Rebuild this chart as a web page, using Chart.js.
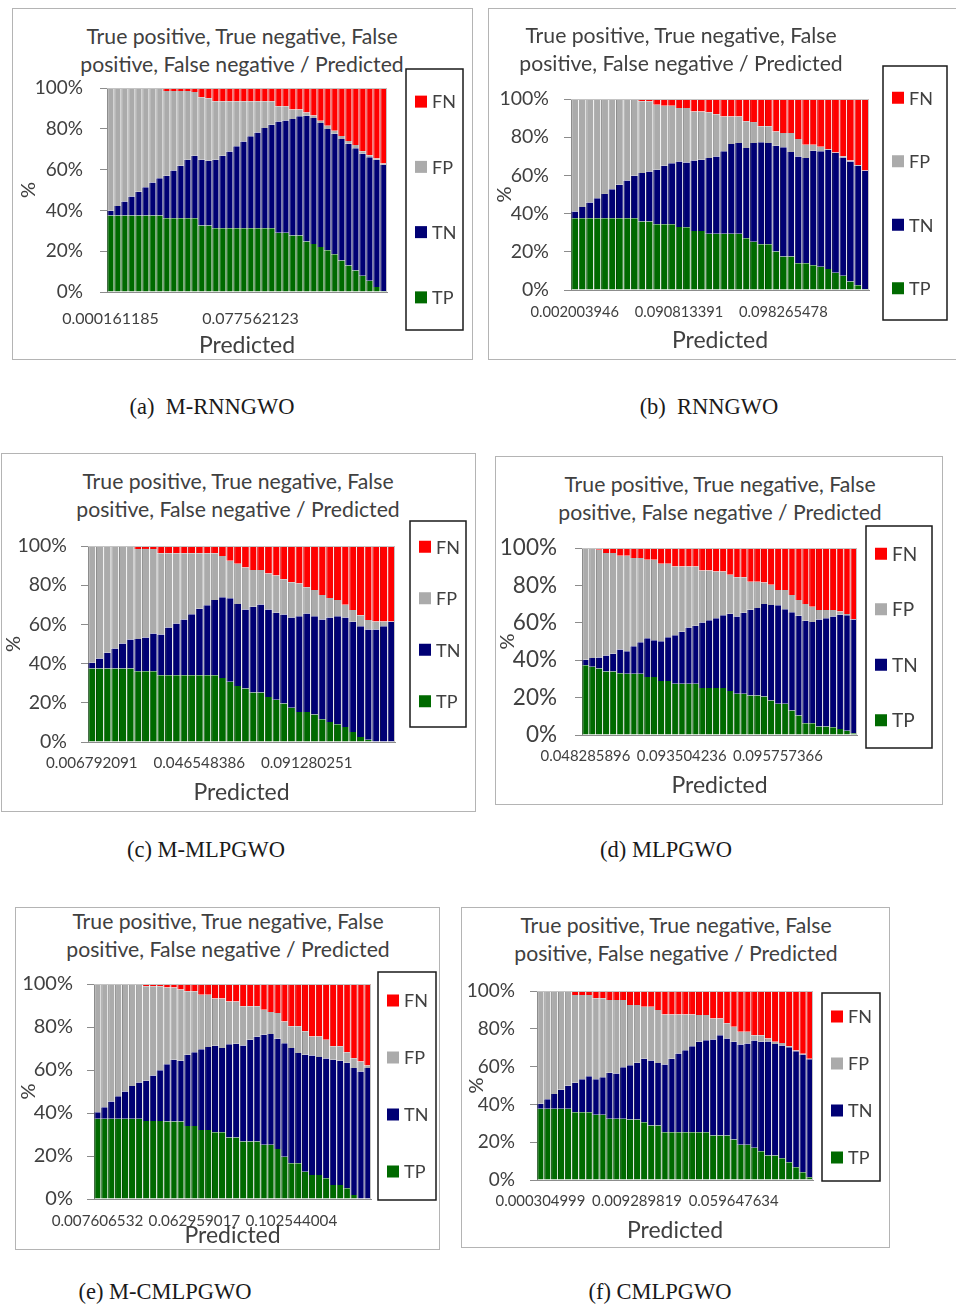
<!DOCTYPE html>
<html>
<head>
<meta charset="utf-8">
<title>TP / TN / FP / FN by predicted value</title>
<script src="https://cdn.jsdelivr.net/npm/chart.js@4.4.0/dist/chart.umd.min.js"></script>
<style>
  body { margin: 0; background: #fff; }
  #page { position: relative; width: 956px; height: 1306px; overflow: hidden; }
  .box { position: absolute; border: 1.5px solid #b4b4b4; box-sizing: border-box; }
  canvas { position: absolute; }
  .title { position: absolute; width: 440px; text-align: center; font: 21.2px Lato, sans-serif; line-height: 28px; color: #404040; }
  .caption { position: absolute; width: 320px; text-align: center; font: 22.5px "Liberation Serif", "Times New Roman", serif; color: #1a1a1a; white-space: pre; }
</style>
</head>
<body>
<div id="page"></div>
<script>
// (a) M-RNNGWO
const tpA = [37.5,37.5,37.5,37.5,37.5,37.5,37.5,37.5,36.2,36.2,36.2,36.2,36.2,32.6,32.6,31.3,31.3,31.3,31.3,31.3,31.3,31.3,31.3,31.3,29.1,29.1,27.7,27.7,24.7,23.5,22,20.5,18.5,15.5,13,10.5,8,5.5,2.5,0.5];
const tnA = [2.3,4.6,6.9,9.3,11.6,13.9,16.2,18.3,20.8,23.4,25.7,28.6,30.6,32.2,31.7,33.5,35.5,37.6,40.1,42.5,45,46.9,49.1,50.7,54.5,55,57.1,58.4,61.7,61.8,60.8,59.4,59.1,59.5,59.7,60,59.8,60.6,62.3,61.9];
const fpA = [60.2,57.9,55.6,53.2,50.9,48.6,46.3,44.2,41.5,38.9,36.6,33.7,31.2,30.7,30.7,28.7,26.7,24.6,22.1,19.7,17.2,15.3,13.1,11.5,7.4,6.9,4.7,3.4,1.6,1.2,1.2,1.6,1.4,1.5,1.3,1.5,1.2,0.9,0.7,0.6];
const fnA = [0,0,0,0,0,0,0,0,1.5,1.5,1.5,1.5,2,4.5,5,6.5,6.5,6.5,6.5,6.5,6.5,6.5,6.5,6.5,9,9,10.5,10.5,12,13.5,16,18.5,21,23.5,26,28,31,33,34.5,37];
const xTicksA = ['0.000161185', '0.077562123'];

// (b) RNNGWO
const tpB = [37.6,37.6,37.6,37.6,37.6,37.6,37.6,37.6,37.6,35.8,35.8,34.4,34.4,34.4,33,32.9,30.9,30.9,29.4,29.4,29.4,29.4,29.4,27.1,25.3,24,24,20.1,17.5,17.5,14,14,13,12.2,11,9,7.5,4.5,2.5,0.5];
const tnB = [3.5,5.8,8.2,10.5,12.7,15.2,17.5,19.7,22.2,25.4,26.3,28.5,30.6,32,34.3,33.9,36.9,37.3,39.7,40.5,43.2,47,47.5,47.2,51.6,53.4,52.9,55.4,57.3,54.7,55.9,55.1,59.9,60.4,62.4,62.7,61.9,62.8,62.5,61.9];
const fpB = [58.9,56.6,54.2,51.9,49.7,47.2,44.9,42.7,40.2,37.6,36.7,34.1,31.5,30.1,28,28.5,25.7,25.3,23.9,22.1,18.3,14.5,14,14,11,8.3,8.8,7.5,7.4,10,9.1,6.9,3.1,2.4,0.4,0.3,0.6,0.5,0.5,0.2];
const fnB = [0,0,0,0,0,0,0,0,0,1.2,1.2,3,3.5,3.5,4.7,4.7,6.5,6.5,7,8,9.1,9.1,9.1,11.7,12.1,14.3,14.3,17,17.8,17.8,21,24,24,25,26.2,28,30,32.2,34.5,37.4];
const xTicksB = ['0.002003946', '0.090813391', '0.098265478'];

// (c) M-MLPGWO
const tpC = [37.5,37.5,37.5,37.5,37.5,37.5,36.1,36.1,36.1,34.1,34.1,34.1,34.1,34.1,34.1,34.1,34.1,32.7,30.7,28.6,27.3,25.2,25.2,23,21.5,19.6,17.5,15.3,15.3,14,11.6,10.2,9,7.7,5.1,2.6,1.2,0,0,0];
const tnC = [2.9,5.1,8,10.2,12.8,14.8,16.4,17.2,19.3,20.8,24.3,26.4,28.4,31.1,33.9,35.7,38.3,41.1,42.6,41.8,40.3,43.8,45,44.6,44.4,45.5,46,48.9,50.3,50.2,50.9,53.3,55.2,55.8,56.2,56.5,56.2,57.4,59.1,61.3];
const fpC = [59.6,57.4,54.5,52.3,49.7,47.7,46,45.2,43.1,41.4,37.9,35.8,33.8,31.1,28.3,26.5,23.9,21.1,19.2,20.6,21.4,18.7,17.5,18.4,19.1,17.9,18,16.7,13.4,13.3,12.5,10,8.2,6.5,6,5.6,4.8,4.1,2.4,0.2];
const fnC = [0,0,0,0,0,0,1.5,1.5,1.5,3.7,3.7,3.7,3.7,3.7,3.7,3.7,3.7,5.1,7.5,9,11,12.3,12.3,14,15,17,18.5,19.1,21,22.5,25,26.5,27.6,30,32.7,35.3,37.8,38.5,38.5,38.5];
const xTicksC = ['0.006792091', '0.046548386', '0.091280251'];

// (d) MLPGWO
const tpD = [37.3,36.5,35.5,34,34,33,32.8,32.8,32.8,31,31,28.9,28.9,27.4,27.4,27.4,27.4,25.1,25.1,25.1,25.1,23.5,22,22,21.1,21.1,20.6,18.5,16.7,16.7,13.1,10.4,6.3,6.3,4.5,4.5,4.1,3.2,2.3,0.9];
const tnD = [3,4.7,5.9,8.5,9.4,12.7,12,14.7,16.8,20.8,19.7,21.3,23.4,26,27.8,30.1,31,35.1,36.2,37.4,38.9,41.4,41.4,43.4,45.9,46.8,49.5,51,52.7,50.5,52.5,53.4,54.8,54.1,57.3,57.9,59.3,61.1,61.7,60.9];
const fpD = [59.7,58.8,57.7,54.8,53.9,50.2,51.1,47.1,45,41.9,43,41.4,39.3,36.7,34.9,32.6,31.7,27.8,26.7,25,23.5,20.8,21,19,15,14.1,11.4,10.8,8.2,10.4,9.3,8.4,8.9,8.2,5,4.4,3.4,1.7,0.7,0.2];
const fnD = [0,0,0.9,2.7,2.7,4.1,4.1,5.4,5.4,6.3,6.3,8.4,8.4,9.9,9.9,9.9,9.9,12,12,12.5,12.5,14.3,15.6,15.6,18,18,18.5,19.7,22.4,22.4,25.1,27.8,30,31.4,33.2,33.2,33.2,34,35.3,38];
const xTicksD = ['0.048285896', '0.093504236', '0.095757366'];

// (e) M-CMLPGWO
const tpE = [37.3,37.3,37.3,37.3,37.3,37.3,37.3,36.3,36.3,36.3,36,36,36,34,34,32.1,32.1,31.1,31.1,28.6,28.6,26.7,26.7,26.7,25.2,25.2,23.3,19.7,16.6,16.6,12.7,11.2,11.2,9.6,6.5,6.5,5,1.9,0,0];
const tnE = [3.1,5.4,8,10.5,12.7,15.3,16.9,18.7,21.2,23.6,26.7,28.8,28.3,33.1,34.3,37.5,38.6,40.2,39.1,43.4,43.6,44.7,47.4,48.8,51.2,51.5,51.2,52.8,53.6,51.3,54.4,55.6,54.8,55.8,58.3,57.8,58.4,59,59.3,60.9];
const fpE = [59.6,57.3,54.7,52.2,50,47.4,45.8,43.9,41.4,39,35.7,33.6,33.1,29.5,28.3,25.4,24.3,21.9,23,19.9,19.7,18.2,15.5,14.1,11.6,10.3,12,10.1,10.1,12.4,10.9,8.8,9.6,8.7,6.2,6.7,4.9,4.6,4.7,1.2];
const fnE = [0,0,0,0,0,0,0,1.1,1.1,1.1,1.6,1.6,2.6,3.4,3.4,5,5,6.8,6.8,8.1,8.1,10.4,10.4,10.4,12,13,13.5,17.4,19.7,19.7,22,24.4,24.4,25.9,29,29,31.7,34.5,36,37.9];
const xTicksE = ['0.007606532', '0.062959017', '0.102544004'];

// (f) CMLPGWO
const tpF = [37.7,37.7,37.7,37.7,37.7,35.9,35.9,35.9,34.5,34.5,32.4,32.4,32.4,32,32,30.6,28.8,28.8,25.3,25.3,25.3,25.3,25.3,25.3,25.3,23.5,23.5,23.5,21.4,18.6,18.6,17,15.2,12.9,12.9,11.5,9.4,6.7,4.1,1.4];
const tnF = [2.7,5,7.8,10.1,12.2,15.6,17.4,19,18.8,19.8,24.4,23.9,27.2,28.7,30.1,33.5,34.4,33.1,35.8,38.9,41.6,43.4,45.5,47.8,48.7,50.8,53.1,51.4,51.7,53.1,53.6,56.8,57.9,60.4,59.1,59.7,60.9,61.4,62.3,62.5];
const fpF = [59.6,57.3,54.5,52.2,50.1,46.4,44.6,43,42.8,41.8,38.4,38.9,35.6,31.9,30.5,27.6,28.5,28,26.5,23.4,20.7,18.9,16.8,14.2,13.3,11.2,8.9,8.1,8,6.7,6.2,2.8,3.5,1.6,1.1,1.3,0.5,0.4,0.4,0.3];
const fnF = [0,0,0,0,0,2.1,2.1,2.1,3.9,3.9,4.8,4.8,4.8,7.4,7.4,8.3,8.3,10.1,12.4,12.4,12.4,12.4,12.4,12.7,12.7,14.5,14.5,17,18.9,21.6,21.6,23.4,23.4,25.1,26.9,27.5,29.2,31.5,33.2,35.8];
const xTicksF = ['0.000304999', '0.009289819', '0.059647634'];

const yTicks = [0, 20, 40, 60, 80, 100];
const titleLines = ['True positive, True negative, False', 'positive, False negative / Predicted'];

const FONT = 'Lato, "Open Sans", sans-serif';
const TEXT = '#404040';
Chart.defaults.font.family = FONT;
Chart.defaults.color = TEXT;

// page layout of each panel: frame box, plot area, legend box (all page px)
const panels = [
  { caption: '(a)  M-RNNGWO', tp: tpA, tn: tnA, fp: fpA, fn: fnA, xTicks: xTicksA, every: 20,
    box: [12, 8, 473, 360], plot: [107, 88, 387, 292], legend: [406, 69, 463, 330],
    title: [242, 36], cap: [212, 408], pctX: 29, yRight: 83, yFont: 19, xFont: 16, xLabelY: 319, xTitleY: 346, legFont: 18 },
  { caption: '(b)  RNNGWO', tp: tpB, tn: tnB, fp: fpB, fn: fnB, xTicks: xTicksB, every: 14,
    box: [488, 8, 960, 360], plot: [571, 99, 869, 290], legend: [883, 66, 947, 320],
    title: [681, 35], cap: [709, 408], pctX: 505, yRight: 549, yFont: 19.5, xFont: 14.7, xLabelY: 312, xTitleY: 341, legFont: 18 },
  { caption: '(c) M-MLPGWO', tp: tpC, tn: tnC, fp: fpC, fn: fnC, xTicks: xTicksC, every: 14,
    box: [1, 453, 476, 812], plot: [88, 546, 395, 742], legend: [410, 521, 466, 727],
    title: [238, 481], cap: [206, 851], pctX: 14, yRight: 67, yFont: 19.5, xFont: 15.2, xLabelY: 763, xTitleY: 793, legFont: 18 },
  { caption: '(d) MLPGWO', tp: tpD, tn: tnD, fp: fpD, fn: fnD, xTicks: xTicksD, every: 14,
    box: [495, 456, 943, 805], plot: [582, 548, 857, 735], legend: [866, 526, 932, 748],
    title: [720, 484], cap: [666, 851], pctX: 508, yRight: 557, yFont: 22.5, xFont: 14.9, xLabelY: 756, xTitleY: 786, legFont: 19 },
  { caption: '(e) M-CMLPGWO', tp: tpE, tn: tnE, fp: fpE, fn: fnE, xTicks: xTicksE, every: 14,
    box: [15, 907, 440, 1250], plot: [94, 984, 371, 1199], legend: [378, 972, 436, 1200],
    title: [228, 921], cap: [165, 1293], pctX: 29, yRight: 73, yFont: 20, xFont: 15.2, xLabelY: 1221, xTitleY: 1236, legFont: 18 },
  { caption: '(f) CMLPGWO', tp: tpF, tn: tnF, fp: fpF, fn: fnF, xTicks: xTicksF, every: 14,
    box: [461, 907, 890, 1248], plot: [537, 991, 813, 1180], legend: [822, 993, 880, 1181],
    title: [676, 925], cap: [660, 1293], pctX: 477, yRight: 515, yFont: 19, xFont: 14.9, xLabelY: 1201, xTitleY: 1231, legFont: 18 },
];

// thin frame on top/right of the plot + the boxed legend on the right
const boxLegend = {
  id: 'boxLegend',
  afterDraw(chart, args, opts) {
    const { ctx, chartArea } = chart;
    ctx.save();
    ctx.strokeStyle = '#c4c4c4';
    ctx.lineWidth = 1;
    ctx.beginPath();
    ctx.moveTo(chartArea.left, chartArea.top + 0.5);
    ctx.lineTo(chartArea.right - 0.5, chartArea.top + 0.5);
    ctx.lineTo(chartArea.right - 0.5, chartArea.bottom);
    ctx.stroke();

    const [x0, y0, x1, y1] = opts.box;
    ctx.strokeStyle = '#1a1a1a';
    ctx.lineWidth = 1.5;
    ctx.strokeRect(x0, y0, x1 - x0, y1 - y0);

    const items = chart.data.datasets.slice().reverse();
    ctx.font = opts.size + 'px ' + FONT;
    ctx.textAlign = 'left';
    ctx.textBaseline = 'middle';
    items.forEach((ds, i) => {
      const cy = y0 + (y1 - y0) * (i + 0.5) / items.length;
      ctx.fillStyle = ds.backgroundColor;
      ctx.fillRect(x0 + 9, cy - 6, 12, 12);
      ctx.fillStyle = TEXT;
      ctx.fillText(ds.label, x0 + 26, cy + 1);
    });
    ctx.restore();
  }
};

const page = document.getElementById('page');

function addText(cls, html, left, top) {
  const el = document.createElement('div');
  el.className = cls;
  el.innerHTML = html;
  el.style.left = left + 'px';
  el.style.top = top + 'px';
  page.appendChild(el);
}

function drawPanel(p) {
  const [bx, by, br, bb] = p.box;
  const [pl, pt, pr, pb] = p.plot;

  const frame = document.createElement('div');
  frame.className = 'box';
  frame.style.left = bx + 'px';
  frame.style.top = by + 'px';
  frame.style.width = (br - bx) + 'px';
  frame.style.height = (bb - by) + 'px';
  page.appendChild(frame);

  addText('title', titleLines.join('<br>'), p.title[0] - 220, p.title[1] - 14);
  addText('caption', p.caption, p.cap[0] - 160, p.cap[1] - 14);

  const canvas = document.createElement('canvas');
  canvas.width = br - bx;
  canvas.height = bb - by;
  canvas.style.left = bx + 'px';
  canvas.style.top = by + 'px';
  page.appendChild(canvas);

  const labels = p.tp.map((v, i) => (i % p.every === 0 && p.xTicks[i / p.every]) || '');
  const bar = { barPercentage: 0.92, categoryPercentage: 1, borderSkipped: false,
                borderWidth: { left: 1, right: 0, top: 0, bottom: 0 } };

  const data = {
    labels: labels,
    datasets: [
      { label: 'TP', data: p.tp, backgroundColor: '#006a00', borderColor: '#004e00', ...bar },
      { label: 'TN', data: p.tn, backgroundColor: '#000074', borderColor: '#000050', ...bar },
      { label: 'FP', data: p.fp, backgroundColor: '#ababab', borderColor: '#8e8e8e', ...bar },
      { label: 'FN', data: p.fn, backgroundColor: '#ff0000', borderColor: '#d80000', ...bar },
    ]
  };

  const xLh = p.xFont * 1.2;
  const config = {
    type: 'bar',
    data: data,
    options: {
      responsive: false,
      animation: false,
      devicePixelRatio: 1,
      layout: { padding: { top: pt - by, right: br - pr, left: 0, bottom: 0 } },
      plugins: {
        legend: { display: false },
        tooltip: { enabled: false },
        boxLegend: { box: p.legend.map((v, i) => v - (i % 2 ? by : bx)), size: p.legFont }
      },
      scales: {
        x: {
          stacked: true,
          grid: { display: false, drawTicks: false },
          border: { color: '#8c8c8c' },
          ticks: { autoSkip: false, maxRotation: 0, minRotation: 0,
                   padding: p.xLabelY - pb - xLh / 2, font: { size: p.xFont } },
          title: { display: true, text: 'Predicted', font: { size: 23 },
                   padding: { top: 0, bottom: Math.max(0, bb - p.xTitleY - 13.8) } },
          afterFit: s => { s.height = bb - pb; }
        },
        y: {
          stacked: true,
          min: 0,
          max: 100,
          afterBuildTicks: s => { s.ticks = yTicks.map(v => ({ value: v })); },
          ticks: { callback: v => v + '%', padding: pl - 7 - p.yRight, font: { size: p.yFont } },
          grid: { drawOnChartArea: false, drawTicks: true, tickLength: 7, color: '#8c8c8c' },
          border: { color: '#8c8c8c' },
          title: { display: true, text: '%', font: { size: 20 },
                   padding: { top: Math.max(0, p.pctX - bx - 12), bottom: 0 } },
          afterFit: s => { s.width = pl - bx; }
        }
      }
    },
    plugins: [boxLegend]
  };

  new Chart(canvas.getContext('2d'), config);
}

panels.forEach(drawPanel);
</script>
</body>
</html>
